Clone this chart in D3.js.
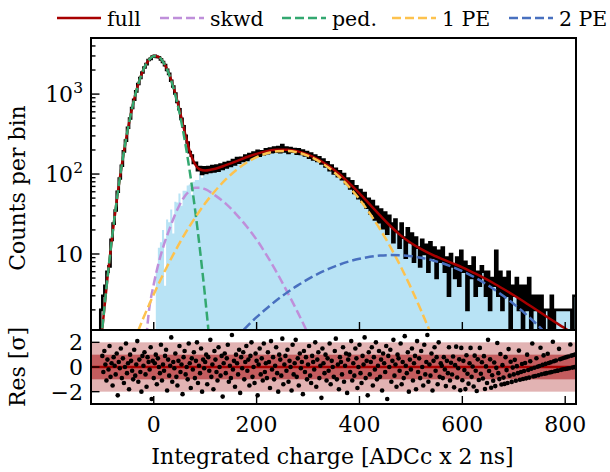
<!DOCTYPE html>
<html>
<head>
<meta charset="utf-8">
<script src="https://cdn.jsdelivr.net/npm/d3@7"></script>
<style>
body { margin: 0; background: #fff; }
text { font-family: "DejaVu Serif", serif; fill: #000; }
</style>
</head>
<body>
<div id="chart"></div>
<script>
// Histogram: counts per bin, bins of 4 ADC starting at -120
var binStart = -120, binWidth = 4;
var counts = [
	0,0,0,0,2,3,4,6,7,15,
	24,35,60,88,127,192,262,380,495,670,
	850,1080,1335,1590,1860,2150,2370,2670,2760,2940,
	3010,2920,2890,2720,2520,2300,2010,1790,1470,1245,
	1015,795,645,490,395,300,248,188,170,138,
	138,112,122,100,121,103,122,106,126,108,
	128,110,131,116,137,121,141,126,150,132,
	158,139,160,146,170,150,178,158,186,165,
	195,170,192,177,204,182,209,187,214,190,
	218,188,230,192,214,184,212,190,205,180,
	204,178,196,171,188,160,181,152,170,146,
	162,136,152,124,140,112,128,102,116,94,
	108,86,100,77,88,66,81,58,70,50,
	63,45,58,38,49,32,46,27,39,25,
	36,21,33,18,30,24,14,27,19,12,
	24,16,9,21,14,18,8,16,12,7,
	15,10,13,6,14,9,12,5,11,8,
	12,6,9,3,10,7,5,9,4,11,
	6,8,2,7,5,9,3,6,4,7,
	6,3,6,2,5,4,11,3,6,2,
	5,3,6,1,4,3,5,2,4,1,
	4,2,5,1,3,2,3,1,3,1,
	2,2,1,3,1,2,2,2,2,2,
	2,2,2,1,3
];
// Pedestal-subtracted counts for the first bins (blue fill), later bins follow the data
var sigLow = [
	0,0,0,0,0,0,0,0,0,0,
	0,0,0,0,0,0,0,0,0,0,
	0,0,0,0,0,0,0,0,0,0,
	0,6,12,14,20,4,27,25,36,18,
	45,44,57,40,62,62,72,74,55,80,
	84,84,101,90,108,98,112,103
];

// Fit curves
var fullX = [-120,-110,-100,-90,-80,-70,-60,-50,-40,-30,-20,-10,0,10,20,30,40,50,60,70,80,90,100,110,120,
	140,160,180,200,220,240,260,280,300,320,340,360,380,400,420,440,460,480,500,520,540,560,580,600,
	620,640,660,680,700,720,740,760,780,800,820];
var fullY = [0.04,0.24,1.17,4.98,18.3,58,159,375,765,1343,2031,2651,2987,2905,2442,1778,1130,639,341,192,133.5,114,111,113,116.5,
	129,144,162,179,193.5,201,201,192,175,152,126,101,77,57.4,41.8,30.4,22.4,17.1,13.7,11.5,9.9,8.7,7.7,6.8,
	5.9,5.1,4.34,3.65,3.05,2.53,2.08,1.71,1.41,1.17,0.99];
var pedX = [-120,-110,-100,-90,-80,-70,-60,-50,-40,-30,-20,-10,0,10,20,30,40,50,60,70,80,90,100,110,120];
var pedY = [0.041,0.24,1.17,4.98,18.3,58,159,375,764,1341,2029,2647,2980,2893,2423,1750,1090,585,271,108,37.4,11.1,2.85,0.63,0.12];
var skwdX = [-20,-10,0,10,20,30,40,50,60,70,80,90,100,120,140,160,180,200,220,240,260,280,300,320];
var skwdY = [0.3,1.78,4.17,7.94,13.2,20.0,29.5,40.7,52.5,61.7,67.6,67.6,64.6,53.7,42.7,31.6,22.4,15.1,9.55,5.75,3.31,1.86,1.0,0.5];
var pe1X = [-40,-20,0,20,40,60,80,100,120,140,160,180,200,220,240,260,280,300,320,340,360,380,400,420,440,460,480,500,520,540,560];
var pe1Y = [0.76,1.59,3.13,5.86,10.4,17.6,28.2,43.0,62.2,85.5,111.6,138.2,162.7,181.8,192.9,194.4,186.0,169.1,145.9,119.6,93.1,68.8,48.3,32.2,20.4,12.3,7.0,3.79,1.95,0.96,0.44];
var pe2X = [140,160,180,200,220,240,260,280,300,320,340,360,380,400,420,440,460,480,500,520,540,560,580,600,620,640,660,680,700,720,740,760,780];
var pe2Y = [0.66,0.90,1.22,1.62,2.10,2.67,3.32,4.05,4.84,5.67,6.51,7.32,8.07,8.71,9.21,9.55,9.69,9.64,9.40,8.98,8.40,7.71,6.92,6.09,5.26,4.44,3.68,2.98,2.37,1.85,1.41,1.05,0.77];

// Residuals, one per 2 ADC starting at -100
var resStart = -100, resStep = 2;
var residuals = [
	0.9,-0.4,1.3,0.2,-1.1,0.6,-0.2,1.7,-0.8,0.3,-1.5,0.8,0.1,-0.6,1.1,-2.3,0.4,-0.1,1.5,-0.9,
	0.7,-1.3,0.0,1.9,-0.5,0.3,-1.8,1.0,0.5,-0.3,-1.0,1.4,-0.7,0.2,2.1,-1.2,0.6,-0.4,-2.0,0.9,
	0.1,1.2,-0.6,-1.6,0.8,0.4,-0.2,1.6,-2.6,0.5,-0.9,0.3,1.0,-1.4,0.7,0.0,-0.5,1.8,-1.1,0.2,
	-0.3,0.9,1.4,-1.9,0.6,-0.7,0.1,2.4,-1.2,0.4,-0.1,1.1,-0.8,-1.5,0.5,1.7,-0.4,0.2,-2.2,0.8,
	1.3,-0.6,0.0,-1.0,1.9,0.3,-1.7,0.7,-0.2,1.2,-0.9,0.5,2.0,-1.3,0.1,-0.5,1.5,-2.0,0.6,-0.1,
	0.4,1.0,-1.4,0.8,-0.3,2.2,-0.8,0.2,-1.8,1.3,0.6,-0.4,-1.1,1.6,0.0,-0.7,0.9,-2.4,0.3,1.1,
	-0.5,0.7,1.8,-1.2,0.1,-0.9,2.6,-0.2,0.5,-1.6,1.0,0.3,-0.6,1.4,-2.1,0.8,-0.1,1.2,-1.0,0.4,
	1.7,-0.3,0.6,-1.5,0.9,2.0,-0.8,0.0,-1.3,1.1,0.5,-2.3,0.2,1.5,-0.6,0.7,-1.1,1.9,-0.4,0.3,
	-0.9,1.2,0.4,-1.7,2.1,-0.2,0.8,-1.0,0.1,1.6,-0.5,-2.0,1.0,0.6,-0.7,2.3,-1.4,0.2,0.9,-0.3,
	1.4,-1.2,0.5,0.0,-1.9,1.8,-0.6,0.3,2.2,-0.8,0.7,-1.5,1.1,-0.1,0.4,-2.2,1.3,-0.4,0.8,-1.0,
	0.2,1.7,-0.7,-1.3,0.9,0.4,-0.2,2.0,-1.6,0.6,1.2,-0.9,0.1,-2.5,1.5,0.3,-0.5,1.0,-1.1,0.7,
	-0.3,1.9,-1.4,0.5,0.0,-0.8,1.3,2.3,-1.0,0.2,-1.8,0.8,0.4,-0.6,1.6,-1.2,0.1,1.1,-2.1,0.6,
	1.0,-0.4,2.1,-1.1,0.3,-0.7,1.5,0.7,-1.7,0.0,1.8,-0.5,-1.3,0.9,0.2,2.4,-0.9,0.5,-2.3,1.2,
	-0.6,0.4,1.6,-1.5,0.8,-0.2,2.0,-1.0,0.1,1.3,-0.8,0.6,-1.9,1.1,0.3,-0.4,1.7,-2.6,0.9,0.0,
	1.4,-1.2,0.5,2.2,-0.7,0.2,-1.6,1.0,0.7,-0.3,1.9,-1.4,0.4,-0.9,2.5,0.1,-0.5,1.2,-2.0,0.6,
	-0.2,1.5,-1.1,0.3,0.9,-1.8,2.1,-0.4,0.7,-0.9,1.3,0.0,-1.5,1.8,-0.6,0.4,2.6,-1.2,0.2,-0.7,
	1.1,-1.9,0.5,1.6,-0.3,0.8,-1.4,2.0,-0.8,0.3,
	0.10,-0.90,0.80,-0.20,-1.55,0.50,-0.50,1.60,-1.10,0.35,
	-0.61,0.85,-1.65,0.15,1.65,-0.85,-0.10,0.62,-1.88,1.55,
	-1.07,0.50,-0.25,-1.79,0.95,-0.55,-1.35,0.30,1.55,-0.80,
	0.04,-1.58,0.92,-0.30,-1.95,0.62,-1.05,1.55,-0.55,0.38,
	-0.93,0.88,-1.78,0.05,-1.30,2.20,-0.33,0.62,-1.68,-0.67,
	-1.12,0.37,-1.55,-0.07,1.95,-0.50,-0.98,1.05,-1.42,0.15,
	-0.86,-1.37,0.80,-0.25,-1.30,1.45,-0.70,0.42,-1.21,-0.05,
	-0.60,0.58,-1.12,0.07,-0.50,1.33,-1.03,-0.41,0.24,-0.97,
	-0.33,0.33,-0.92,1.00,-0.24,-0.86,0.47,-0.14,1.90,-0.77,
	-0.06,-0.73,0.71,0.02,-0.67,0.08,1.56,-0.59,0.17,0.94,
	-0.54,0.25,-0.50,1.07,0.33,-0.45,0.39,-0.40,2.05,0.47,
	-0.35,0.53,-0.31,-0.29,1.47,0.63,-0.23,0.69,-0.18,0.75,
	-0.16,0.80,-0.13,0.85,-0.10,1.82,0.92,-0.05,0.97,-0.01,1.02
];

// Axis ticks and labels
var xTicks = [0, 200, 400, 600, 800];
var yMajor = [10, 100, 1000];
var yMajorExp = ["", "2", "3"];
var resTicks = [-2, 0, 2];
var resTickLabels = ["\u22122", "0", "2"];
var legendLabels = ["full", "skwd", "ped.", "1 PE", "2 PE"];

// Layout
var width = 610, height = 472;
var left = 91, right = 576, mainTop = 38, mainBottom = 330, resBottom = 404;
var fontSize = 22, legendFont = 20.5;
var legendPos = [57, 160, 282, 392, 509];

var x = d3.scaleLinear().domain([-122, 821]).range([left, right]);
var y = d3.scaleLog().domain([1.12, 5030]).range([mainBottom, mainTop]);
var yr = d3.scaleLinear().domain([-3, 3]).range([resBottom, mainBottom]);

var svg = d3.select("#chart").append("svg")
	.attr("width", width)
	.attr("height", height);

var defs = svg.append("defs");
defs.append("clipPath").attr("id", "clipMain").append("rect")
	.attr("x", left).attr("y", mainTop)
	.attr("width", right - left).attr("height", mainBottom - mainTop);
defs.append("clipPath").attr("id", "clipRes").append("rect")
	.attr("x", left).attr("y", mainBottom)
	.attr("width", right - left).attr("height", resBottom - mainBottom);

// safe y for counts (zero / tiny go below the frame)
function yc(v) {
	return v > 0.5 ? y(v) : mainBottom + 10;
}

// ---- main panel ----
var main = svg.append("g").attr("clip-path", "url(#clipMain)");

var histPts = counts.map(function(v, i){ return [binStart + i * binWidth, v]; });
histPts.push([binStart + counts.length * binWidth, counts[counts.length - 1]]);
var bluePts = histPts.map(function(d, i){
	return [d[0], i < sigLow.length ? sigLow[i] : d[1]];
});

main.append("path")
	.datum(bluePts)
	.attr("fill", "#b8e3f5")
	.attr("d", d3.area().curve(d3.curveStepAfter)
		.x(function(d){ return x(d[0]); })
		.y0(mainBottom + 10)
		.y1(function(d){ return yc(d[1]); }));

main.append("path")
	.datum(histPts)
	.attr("fill", "none")
	.attr("stroke", "#000")
	.attr("stroke-width", 2.6)
	.attr("d", d3.line().curve(d3.curveStepAfter)
		.x(function(d){ return x(d[0]); })
		.y(function(d){ return yc(d[1]); }));

var curveLine = d3.line().curve(d3.curveMonotoneX)
	.x(function(d){ return x(d[0]); })
	.y(function(d){ return y(d[1]); });

function zipXY(xs, ys) {
	return xs.map(function(v, i){ return [v, ys[i]]; });
}

var series = [
	{ xs: fullX, ys: fullY, color: "#a80000", dash: null },
	{ xs: skwdX, ys: skwdY, color: "#bf8fda", dash: "9,4" },
	{ xs: pedX, ys: pedY, color: "#33a870", dash: "9,4" },
	{ xs: pe1X, ys: pe1Y, color: "#fdc24e", dash: "9,4" },
	{ xs: pe2X, ys: pe2Y, color: "#4870bf", dash: "9,4" }
];

series.forEach(function(s){
	main.append("path")
		.datum(zipXY(s.xs, s.ys))
		.attr("fill", "none")
		.attr("stroke", s.color)
		.attr("stroke-width", 2.5)
		.attr("stroke-dasharray", s.dash)
		.attr("d", curveLine);
});

// ---- residual panel ----
var res = svg.append("g").attr("clip-path", "url(#clipRes)");
res.append("rect")
	.attr("x", left).attr("width", right - left)
	.attr("y", yr(2)).attr("height", yr(-2) - yr(2))
	.attr("fill", "#e2b3b3");
res.append("rect")
	.attr("x", left).attr("width", right - left)
	.attr("y", yr(1)).attr("height", yr(-1) - yr(1))
	.attr("fill", "#c45c5e");
res.append("line")
	.attr("x1", left).attr("x2", right)
	.attr("y1", yr(0)).attr("y2", yr(0))
	.attr("stroke", "#a80000").attr("stroke-width", 2.5);
res.selectAll("circle")
	.data(residuals)
	.enter().append("circle")
	.attr("cx", function(d, i){ return x(resStart + i * resStep); })
	.attr("cy", function(d){ return yr(d); })
	.attr("r", 2.3)
	.attr("fill", "#000");

// ---- ticks ----
var ticks = svg.append("g").attr("stroke", "#000").attr("stroke-width", 1.4);
xTicks.forEach(function(t){
	ticks.append("line").attr("x1", x(t)).attr("x2", x(t)).attr("y1", mainBottom).attr("y2", mainBottom - 8);
	ticks.append("line").attr("x1", x(t)).attr("x2", x(t)).attr("y1", resBottom).attr("y2", resBottom - 8);
	svg.append("text")
		.attr("x", x(t)).attr("y", 432)
		.attr("text-anchor", "middle")
		.style("font-size", fontSize + "px")
		.text(t);
});

// log y major/minor
var decades = [1, 10, 100, 1000];
decades.forEach(function(d){
	for (var m = 2; m <= 9; m++) {
		var v = d * m;
		if (v < 1.12 || v > 5030) continue;
		ticks.append("line").attr("x1", left).attr("x2", left + 4.5).attr("y1", y(v)).attr("y2", y(v));
	}
});
yMajor.forEach(function(v, i){
	ticks.append("line").attr("x1", left).attr("x2", left + 8.5).attr("y1", y(v)).attr("y2", y(v));
	var t = svg.append("text")
		.attr("x", 83).attr("y", y(v) + 8)
		.attr("text-anchor", "end")
		.style("font-size", fontSize + "px")
		.text("10");
	if (yMajorExp[i]) {
		t.append("tspan")
			.attr("dy", -9)
			.style("font-size", "15.5px")
			.text(yMajorExp[i]);
	}
});

resTicks.forEach(function(v, i){
	ticks.append("line").attr("x1", left).attr("x2", left + 8.5).attr("y1", yr(v)).attr("y2", yr(v));
	svg.append("text")
		.attr("x", 83).attr("y", yr(v) + 8)
		.attr("text-anchor", "end")
		.style("font-size", fontSize + "px")
		.text(resTickLabels[i]);
});

// frames
svg.append("rect")
	.attr("x", left).attr("y", mainTop)
	.attr("width", right - left).attr("height", mainBottom - mainTop)
	.attr("fill", "none").attr("stroke", "#000").attr("stroke-width", 2);
svg.append("rect")
	.attr("x", left).attr("y", mainBottom)
	.attr("width", right - left).attr("height", resBottom - mainBottom)
	.attr("fill", "none").attr("stroke", "#000").attr("stroke-width", 2);

// axis labels
svg.append("text")
	.attr("x", (left + right) / 2 - 1).attr("y", 464)
	.attr("text-anchor", "middle")
	.style("font-size", fontSize + "px")
	.text("Integrated charge [ADCc x 2 ns]");
svg.append("text")
	.attr("transform", "translate(25," + ((mainTop + mainBottom) / 2 + 4) + ") rotate(-90)")
	.attr("text-anchor", "middle")
	.style("font-size", fontSize + "px")
	.text("Counts per bin");
svg.append("text")
	.attr("transform", "translate(25," + ((mainBottom + resBottom) / 2) + ") rotate(-90)")
	.attr("text-anchor", "middle")
	.style("font-size", fontSize + "px")
	.text("Res [\u03c3]");

// legend
var ly = 18;
series.forEach(function(s, i){
	var lx = legendPos[i];
	svg.append("line")
		.attr("x1", lx).attr("x2", lx + 44)
		.attr("y1", ly).attr("y2", ly)
		.attr("stroke", s.color)
		.attr("stroke-width", 2.5)
		.attr("stroke-dasharray", s.dash);
	svg.append("text")
		.attr("x", lx + 50).attr("y", ly + 8)
		.style("font-size", legendFont + "px")
		.text(legendLabels[i]);
});
</script>
</body>
</html>
